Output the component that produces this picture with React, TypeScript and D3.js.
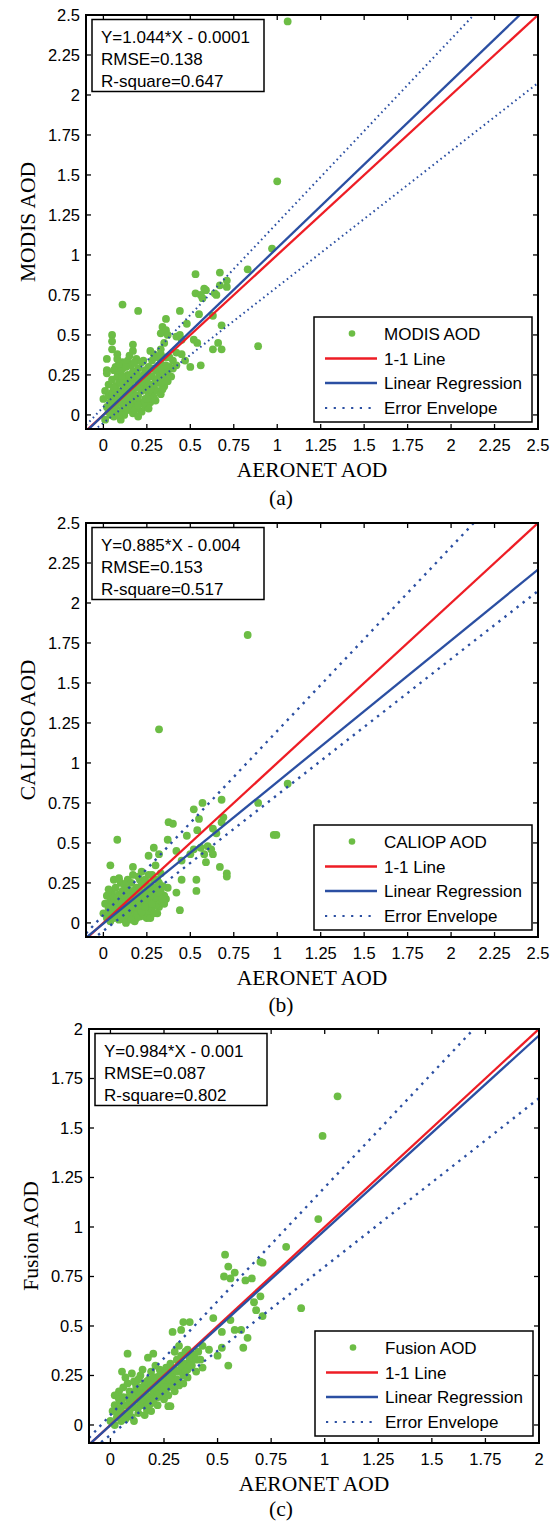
import React from "react";
import * as d3 from "d3";

type Pt = [number, number];

// ---------- DATA ----------
const ticksAB = [0, 0.25, 0.5, 0.75, 1, 1.25, 1.5, 1.75, 2, 2.25, 2.5];
const ticksC = [0, 0.25, 0.5, 0.75, 1, 1.25, 1.5, 1.75, 2];

const fitA = { slope: 1.044, intercept: -0.0001 };
const fitB = { slope: 0.885, intercept: -0.004 };
const fitC = { slope: 0.984, intercept: -0.001 };

const statsA = ["Y=1.044*X - 0.0001", "RMSE=0.138", "R-square=0.647"];
const statsB = ["Y=0.885*X - 0.004", "RMSE=0.153", "R-square=0.517"];
const statsC = ["Y=0.984*X - 0.001", "RMSE=0.087", "R-square=0.802"];

const legendLabelsA = ["MODIS AOD", "1-1 Line", "Linear Regression", "Error Envelope"];
const legendLabelsB = ["CALIOP AOD", "1-1 Line", "Linear Regression", "Error Envelope"];
const legendLabelsC = ["Fusion AOD", "1-1 Line", "Linear Regression", "Error Envelope"];

const envelope = { abs: 0.05, rel: 0.15 };

const modisPoints: Pt[] = [
  [1.06, 2.46], [1.0, 1.46], [0.97, 1.04], [0.83, 0.91], [0.89, 0.43],
  [0.53, 0.88], [0.67, 0.89], [0.71, 0.84], [0.71, 0.8], [0.53, 0.76], [0.59, 0.78], [0.65, 0.75],
  [0.57, 0.73], [0.56, 0.75], [0.58, 0.79], [0.67, 0.81], [0.11, 0.69], [0.2, 0.65], [0.44, 0.65],
  [0.05, 0.5], [0.05, 0.46], [0.64, 0.76], [0.34, 0.55], [0.36, 0.53], [0.33, 0.51], [0.37, 0.5],
  [0.36, 0.6], [0.48, 0.57], [0.55, 0.63], [0.63, 0.62], [0.68, 0.56], [0.66, 0.45], [0.68, 0.41],
  [0.63, 0.41], [0.52, 0.47], [0.54, 0.45], [0.47, 0.34], [0.5, 0.3], [0.56, 0.31], [0.42, 0.49],
  [0.44, 0.5], [0.45, 0.47], [0.42, 0.39], [0.45, 0.38], [0.33, 0.41], [0.35, 0.45], [0.27, 0.4],
  [0.29, 0.38], [0.17, 0.44], [0.17, 0.4], [0.08, 0.38], [0.11, 0.33], [0.02, 0.35], [0.02, 0.28],
  [0.07, 0.3], [0.11, 0.29], [0.14, 0.34], [0.19, 0.35], [0.23, 0.34],
  [0.0, 0.1], [0.01, 0.15], [0.02, 0.05], [0.03, 0.19], [0.03, 0.12], [0.04, 0.08], [0.04, 0.0],
  [0.05, 0.03], [0.05, 0.14], [0.02, 0.26], [0.05, 0.22], [0.06, -0.01], [0.06, 0.11], [0.07, 0.18],
  [0.07, 0.05], [0.08, 0.24], [0.08, 0.01], [0.08, 0.13], [0.09, 0.08], [0.09, 0.2], [0.1, -0.03],
  [0.1, 0.15], [0.1, 0.27], [0.11, 0.04], [0.11, 0.11], [0.12, 0.18], [0.12, 0.22], [0.12, 0.0],
  [0.13, 0.08], [0.13, 0.14], [0.14, 0.25], [0.14, 0.03], [0.15, 0.11], [0.15, 0.18], [0.16, 0.06],
  [0.16, 0.21], [0.16, 0.31], [0.17, 0.14], [0.17, 0.01], [0.18, 0.09], [0.18, 0.24], [0.19, 0.17],
  [0.19, 0.05], [0.2, 0.12], [0.2, 0.21], [0.2, 0.29], [0.21, 0.08], [0.22, 0.15], [0.22, 0.02],
  [0.23, 0.19], [0.23, 0.25], [0.24, 0.1], [0.24, 0.05], [0.25, 0.16], [0.25, 0.22], [0.26, 0.13],
  [0.26, 0.3], [0.27, 0.19], [0.27, 0.08], [0.28, 0.24], [0.28, 0.14], [0.29, 0.18], [0.29, 0.11],
  [0.3, 0.22], [0.3, 0.28], [0.31, 0.15], [0.31, 0.36], [0.32, 0.2], [0.32, 0.26], [0.33, 0.13],
  [0.33, 0.32], [0.34, 0.23], [0.35, 0.18], [0.35, 0.29], [0.36, 0.25], [0.36, 0.36], [0.37, 0.21],
  [0.38, 0.3], [0.39, 0.24], [0.4, 0.34], [0.14, 0.19], [0.09, 0.32], [0.06, 0.28], [0.18, 0.33],
  [0.22, 0.33], [0.24, 0.28], [0.13, 0.3], [0.19, 0.27], [0.11, 0.24], [0.21, 0.24], [0.07, 0.15],
  [0.15, 0.07], [0.03, 0.02], [0.01, -0.03], [0.12, 0.06], [0.18, 0.03], [0.27, 0.1], [0.3, 0.09],
  [0.26, 0.04], [0.34, 0.16], [0.2, -0.01], [0.08, 0.35], [0.05, 0.41], [0.15, 0.37], [0.28, 0.34],
  [0.33, 0.38],
  [0.04, 0.06], [0.06, 0.17], [0.09, 0.0], [0.1, 0.2], [0.13, 0.11], [0.15, 0.24], [0.17, 0.27],
  [0.19, 0.12], [0.21, 0.18], [0.23, 0.07], [0.25, 0.27], [0.27, 0.16], [0.29, 0.29], [0.31, 0.22],
  [0.32, 0.31], [0.34, 0.28], [0.37, 0.27], [0.38, 0.36], [0.4, 0.29], [0.42, 0.31], [0.11, 0.08],
  [0.07, 0.09], [0.16, 0.16], [0.22, 0.21], [0.26, 0.25], [0.14, 0.14], [0.2, 0.06], [0.25, 0.1],
  [0.33, 0.2], [0.36, 0.31],
];

const caliopPoints: Pt[] = [
  [0.66, 2.18], [0.83, 1.8], [0.32, 1.21], [1.06, 0.87], [0.89, 0.75], [0.98, 0.55], [0.995, 0.55],
  [0.68, 0.77], [0.57, 0.75], [0.52, 0.71], [0.55, 0.65], [0.69, 0.66], [0.68, 0.63], [0.375, 0.63],
  [0.4, 0.62], [0.08, 0.52], [0.04, 0.36], [0.06, 0.27], [0.37, 0.52], [0.48, 0.545], [0.54, 0.58],
  [0.63, 0.59], [0.65, 0.56], [0.29, 0.47], [0.32, 0.43], [0.26, 0.42], [0.42, 0.45], [0.45, 0.39],
  [0.5, 0.43], [0.52, 0.46], [0.56, 0.47], [0.6, 0.48], [0.62, 0.46], [0.58, 0.43], [0.63, 0.43],
  [0.59, 0.38], [0.67, 0.35], [0.71, 0.31], [0.71, 0.29], [0.535, 0.27], [0.535, 0.2], [0.45, 0.27],
  [0.42, 0.19], [0.44, 0.08], [0.3, 0.36], [0.28, 0.3], [0.33, 0.31], [0.31, 0.27], [0.37, 0.22],
  [0.36, 0.15], [0.32, 0.1], [0.35, 0.17], [0.29, 0.2], [0.26, 0.3], [0.22, 0.32], [0.17, 0.35],
  [0.14, 0.27], [0.1, 0.25],
  [0.0, 0.06], [0.01, 0.12], [0.02, 0.17], [0.02, 0.03], [0.03, 0.09], [0.04, 0.14], [0.04, 0.01],
  [0.05, 0.06], [0.05, 0.19], [0.06, 0.1], [0.06, 0.03], [0.07, 0.15], [0.07, 0.22], [0.08, 0.07],
  [0.08, 0.12], [0.09, 0.02], [0.09, 0.18], [0.1, 0.09], [0.1, 0.14], [0.11, 0.05], [0.11, 0.2],
  [0.12, 0.11], [0.12, 0.02], [0.13, 0.16], [0.13, 0.07], [0.14, 0.12], [0.14, 0.21], [0.15, 0.03],
  [0.15, 0.09], [0.16, 0.15], [0.16, 0.25], [0.17, 0.06], [0.17, 0.11], [0.18, 0.18], [0.18, 0.01],
  [0.19, 0.13], [0.19, 0.22], [0.2, 0.08], [0.2, 0.16], [0.21, 0.04], [0.21, 0.27], [0.22, 0.12],
  [0.22, 0.19], [0.23, 0.09], [0.23, 0.24], [0.24, 0.15], [0.24, 0.04], [0.25, 0.2], [0.25, 0.11],
  [0.26, 0.17], [0.26, 0.07], [0.27, 0.23], [0.27, 0.13], [0.28, 0.18], [0.28, 0.09], [0.29, 0.14],
  [0.3, 0.22], [0.3, 0.11], [0.31, 0.17], [0.32, 0.25], [0.33, 0.14], [0.33, 0.2], [0.34, 0.23],
  [0.35, 0.12], [0.12, 0.24], [0.09, 0.28], [0.15, 0.18], [0.2, 0.29], [0.06, 0.16], [0.18, 0.05],
  [0.25, 0.03], [0.03, 0.21], [0.13, 0.0], [0.22, 0.07], [0.27, 0.03], [0.11, 0.15], [0.16, 0.09],
  [0.19, 0.03], [0.14, 0.05], [0.24, 0.27], [0.17, 0.3], [0.29, 0.27], [0.31, 0.06], [0.21, 0.14],
  [0.08, 0.04],
  [0.03, 0.05], [0.05, 0.12], [0.07, 0.08], [0.09, 0.13], [0.1, 0.04], [0.12, 0.17], [0.14, 0.09],
  [0.16, 0.02], [0.17, 0.2], [0.19, 0.16], [0.2, 0.11], [0.22, 0.24], [0.23, 0.15], [0.25, 0.14],
  [0.26, 0.23], [0.28, 0.12], [0.29, 0.06], [0.3, 0.16], [0.32, 0.19], [0.34, 0.15], [0.11, 0.1],
  [0.13, 0.13], [0.15, 0.14], [0.18, 0.1], [0.21, 0.21], [0.24, 0.1], [0.27, 0.17], [0.08, 0.16],
  [0.06, 0.07], [0.04, 0.1],
];

const fusionPoints: Pt[] = [
  [1.06, 1.66], [0.99, 1.46], [0.97, 1.04], [0.82, 0.9], [0.535, 0.86], [0.71, 0.82], [0.89, 0.59],
  [0.7, 0.825], [0.53, 0.75], [0.58, 0.77], [0.56, 0.74], [0.66, 0.74], [0.7, 0.65], [0.67, 0.62],
  [0.68, 0.58], [0.71, 0.55], [0.48, 0.54], [0.56, 0.53], [0.58, 0.48], [0.52, 0.47], [0.61, 0.48],
  [0.34, 0.52], [0.37, 0.52], [0.33, 0.48], [0.29, 0.47], [0.64, 0.44], [0.62, 0.39], [0.43, 0.4],
  [0.46, 0.38], [0.5, 0.35], [0.52, 0.39], [0.42, 0.33], [0.43, 0.29], [0.55, 0.3], [0.32, 0.4],
  [0.36, 0.38], [0.38, 0.36], [0.08, 0.36], [0.175, 0.34], [0.2, 0.36], [0.054, 0.27], [0.27, 0.095],
  [0.28, 0.095], [0.55, 0.8], [0.63, 0.73],
  [0.0, 0.02], [0.01, 0.07], [0.02, 0.0], [0.02, 0.1], [0.03, 0.04], [0.03, 0.15], [0.04, 0.08],
  [0.04, 0.17], [0.05, 0.02], [0.05, 0.12], [0.06, 0.06], [0.06, 0.19], [0.07, 0.1], [0.07, 0.03],
  [0.08, 0.14], [0.08, 0.21], [0.09, 0.07], [0.09, 0.17], [0.1, 0.11], [0.1, 0.04], [0.11, 0.15],
  [0.11, 0.22], [0.12, 0.09], [0.12, 0.18], [0.13, 0.13], [0.13, 0.06], [0.14, 0.19], [0.14, 0.25],
  [0.15, 0.1], [0.15, 0.16], [0.16, 0.21], [0.16, 0.13], [0.17, 0.08], [0.17, 0.18], [0.18, 0.23],
  [0.18, 0.14], [0.19, 0.11], [0.19, 0.27], [0.2, 0.17], [0.2, 0.21], [0.21, 0.14], [0.21, 0.24],
  [0.22, 0.19], [0.22, 0.1], [0.23, 0.22], [0.23, 0.16], [0.24, 0.27], [0.24, 0.2], [0.25, 0.13],
  [0.25, 0.24], [0.26, 0.18], [0.26, 0.29], [0.27, 0.22], [0.27, 0.15], [0.28, 0.26], [0.28, 0.31],
  [0.29, 0.2], [0.29, 0.24], [0.3, 0.28], [0.3, 0.17], [0.31, 0.33], [0.31, 0.23], [0.32, 0.27],
  [0.32, 0.2], [0.33, 0.3], [0.33, 0.35], [0.34, 0.25], [0.35, 0.31], [0.35, 0.37], [0.36, 0.28],
  [0.37, 0.33], [0.38, 0.3], [0.39, 0.35], [0.4, 0.27], [0.41, 0.37], [0.02, 0.15], [0.04, 0.13],
  [0.07, 0.24], [0.1, 0.26], [0.12, 0.13], [0.15, 0.28], [0.05, 0.09], [0.08, 0.06], [0.14, 0.12],
  [0.18, 0.19], [0.22, 0.14], [0.26, 0.21], [0.16, 0.05], [0.2, 0.12], [0.24, 0.16], [0.11, 0.02],
  [0.13, 0.23], [0.09, 0.12], [0.19, 0.07], [0.23, 0.28], [0.27, 0.19], [0.34, 0.21], [0.36, 0.24],
  [0.3, 0.37], [0.21, 0.3],
  [0.03, 0.07], [0.05, 0.05], [0.06, 0.14], [0.08, 0.1], [0.1, 0.15], [0.12, 0.2], [0.13, 0.09],
  [0.15, 0.13], [0.17, 0.15], [0.18, 0.1], [0.2, 0.24], [0.22, 0.17], [0.23, 0.25], [0.25, 0.19],
  [0.26, 0.26], [0.28, 0.23], [0.29, 0.28], [0.31, 0.27], [0.32, 0.32], [0.34, 0.29], [0.35, 0.27],
  [0.37, 0.3], [0.38, 0.34], [0.4, 0.33], [0.17, 0.22], [0.11, 0.09], [0.14, 0.16], [0.19, 0.2],
  [0.24, 0.23], [0.21, 0.19],
];

// ---------- STYLE ----------
const GREEN = "#6cbd45";
const RED = "#ee1d25";
const BLUE = "#2b4fa2";
const SANS = "'Liberation Sans', Arial, sans-serif";
const SERIF = "'Liberation Serif', 'Times New Roman', serif";

interface PanelProps {
  id: string;
  left: number;
  right: number;
  top: number;
  bottom: number;
  xDomain: [number, number];
  yDomain: [number, number];
  ticks: number[];
  points: Pt[];
  fit: { slope: number; intercept: number };
  stats: string[];
  legend: string[];
  yLabel: string;
  caption: string;
  captionOffset: number;
  dash: string;
  dashWidth: number;
}

function Panel(p: PanelProps) {
  const x = d3.scaleLinear().domain(p.xDomain).range([p.left, p.right]);
  const y = d3.scaleLinear().domain(p.yDomain).range([p.bottom, p.top]);
  const x0 = p.xDomain[0];
  const x1 = p.xDomain[1];
  const line = d3
    .line<Pt>()
    .x((d) => x(d[0]))
    .y((d) => y(d[1]));
  const seg = (f: (v: number) => number): string =>
    line([
      [x0, f(x0)],
      [x1, f(x1)],
    ]) || "";
  const one = seg((v) => v);
  const reg = seg((v) => p.fit.slope * v + p.fit.intercept);
  const up = seg((v) => v + envelope.abs + envelope.rel * v);
  const lo = seg((v) => v - envelope.abs - envelope.rel * v);
  const tl = 5;
  const cx = (p.left + p.right) / 2;
  const cy = (p.top + p.bottom) / 2;
  const lgW = 218;
  const lgH = 105;
  const lgL = p.right - 224;
  const lgT = p.bottom - 112;
  const rows = [16.5, 41.5, 66, 91];
  return (
    <g>
      <defs>
        <clipPath id={`clip-${p.id}`}>
          <rect x={p.left} y={p.top} width={p.right - p.left} height={p.bottom - p.top} />
        </clipPath>
      </defs>
      <g clipPath={`url(#clip-${p.id})`}>
        {p.points.map((d, i) => (
          <circle key={i} cx={x(d[0])} cy={y(d[1])} r={3.9} fill={GREEN} />
        ))}
        <path d={up} stroke={BLUE} strokeWidth={p.dashWidth} strokeDasharray={p.dash} fill="none" />
        <path d={lo} stroke={BLUE} strokeWidth={p.dashWidth} strokeDasharray={p.dash} fill="none" />
        <path d={one} stroke={RED} strokeWidth={2.3} fill="none" />
        <path d={reg} stroke={BLUE} strokeWidth={2.3} fill="none" />
      </g>
      {p.ticks.map((t) => (
        <g key={`t${t}`}>
          <line x1={x(t)} x2={x(t)} y1={p.bottom} y2={p.bottom - tl} stroke="#000" strokeWidth={1.3} />
          <line x1={x(t)} x2={x(t)} y1={p.top} y2={p.top + tl} stroke="#000" strokeWidth={1.3} />
          <line x1={p.left} x2={p.left + tl} y1={y(t)} y2={y(t)} stroke="#000" strokeWidth={1.3} />
          <line x1={p.right} x2={p.right - tl} y1={y(t)} y2={y(t)} stroke="#000" strokeWidth={1.3} />
          <text
            x={x(t)}
            y={p.bottom + 22}
            textAnchor="middle"
            fontFamily={SANS}
            fontSize={16.5}
            fill="#000"
          >
            {String(t)}
          </text>
          <text
            x={p.left - 6}
            y={y(t)}
            dy="0.36em"
            textAnchor="end"
            fontFamily={SANS}
            fontSize={16.5}
            fill="#000"
          >
            {String(t)}
          </text>
        </g>
      ))}
      <rect
        x={p.left}
        y={p.top}
        width={p.right - p.left}
        height={p.bottom - p.top}
        fill="none"
        stroke="#000"
        strokeWidth={2}
      />
      <rect x={p.left + 6} y={p.top + 4.5} width={172} height={72} fill="#fff" stroke="#000" strokeWidth={1.5} />
      {p.stats.map((s, i) => (
        <text key={s} x={p.left + 15} y={p.top + 28 + i * 22} fontFamily={SANS} fontSize={17} fill="#000">
          {s}
        </text>
      ))}
      <rect x={lgL} y={lgT} width={lgW} height={lgH} fill="#fff" stroke="#000" strokeWidth={1.5} />
      <circle cx={lgL + 38} cy={lgT + rows[0]} r={3.3} fill={GREEN} />
      <line x1={lgL + 11} x2={lgL + 63} y1={lgT + rows[1]} y2={lgT + rows[1]} stroke={RED} strokeWidth={2.3} />
      <line x1={lgL + 11} x2={lgL + 63} y1={lgT + rows[2]} y2={lgT + rows[2]} stroke={BLUE} strokeWidth={2.3} />
      <line
        x1={lgL + 11}
        x2={lgL + 63}
        y1={lgT + rows[3]}
        y2={lgT + rows[3]}
        stroke={BLUE}
        strokeWidth={2.2}
        strokeDasharray="2.2 6.5"
      />
      {p.legend.map((s, i) => (
        <text
          key={s}
          x={lgL + 70}
          y={lgT + rows[i]}
          dy="0.36em"
          fontFamily={SANS}
          fontSize={17}
          fill="#000"
        >
          {s}
        </text>
      ))}
      <text x={cx} y={p.bottom + 48} textAnchor="middle" fontFamily={SERIF} fontSize={21.5} fill="#000">
        AERONET AOD
      </text>
      <text
        transform={`translate(${p.left - 51},${cy}) rotate(-90)`}
        textAnchor="middle"
        fontFamily={SERIF}
        fontSize={21.5}
        fill="#000"
      >
        {p.yLabel}
      </text>
      <text
        x={281}
        y={p.bottom + p.captionOffset}
        textAnchor="middle"
        fontFamily={SERIF}
        fontSize={21.5}
        fill="#000"
      >
        {p.caption}
      </text>
    </g>
  );
}

export default function App() {
  return (
    <svg
      width={558}
      height={1522}
      style={{ position: "absolute", left: 0, top: 0, background: "#fff" }}
    >
      <rect x={0} y={0} width={558} height={1522} fill="#fff" />
      <Panel
        id="a"
        left={86}
        right={538}
        top={15}
        bottom={429}
        xDomain={[-0.1, 2.5]}
        yDomain={[-0.088, 2.5]}
        ticks={ticksAB}
        points={modisPoints}
        fit={fitA}
        stats={statsA}
        legend={legendLabelsA}
        yLabel="MODIS AOD"
        caption="(a)"
        captionOffset={76}
        dash="1.6 3.4"
        dashWidth={2}
      />
      <Panel
        id="b"
        left={86}
        right={538}
        top={523}
        bottom={937}
        xDomain={[-0.1, 2.5]}
        yDomain={[-0.088, 2.5]}
        ticks={ticksAB}
        points={caliopPoints}
        fit={fitB}
        stats={statsB}
        legend={legendLabelsB}
        yLabel="CALIPSO AOD"
        caption="(b)"
        captionOffset={75}
        dash="2.4 5.3"
        dashWidth={2.4}
      />
      <Panel
        id="c"
        left={89}
        right={539}
        top={1029}
        bottom={1443}
        xDomain={[-0.1, 2]}
        yDomain={[-0.091, 2]}
        ticks={ticksC}
        points={fusionPoints}
        fit={fitC}
        stats={statsC}
        legend={legendLabelsC}
        yLabel="Fusion AOD"
        caption="(c)"
        captionOffset={73}
        dash="2.4 5.3"
        dashWidth={2.4}
      />
    </svg>
  );
}
